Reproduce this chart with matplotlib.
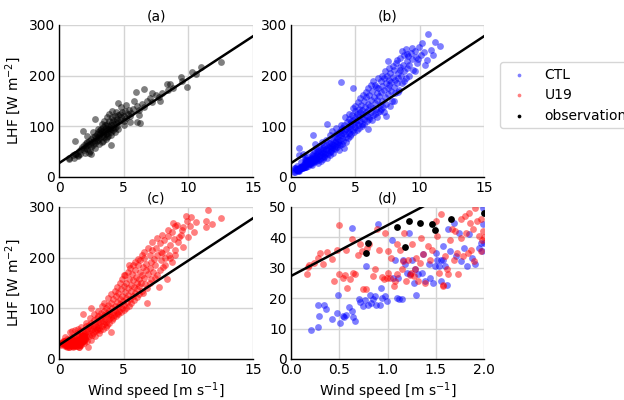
import numpy as np
import matplotlib
matplotlib.use('Agg')
import matplotlib.pyplot as plt

# fitted line LHF = a + b * U (drawn in every panel)
fit_intercept = 27.3
fit_slope = 16.7

# observations (wind speed [m/s], LHF [W/m2])
obs_points = [
    (0.78, 35), (0.80, 38), (1.10, 43.5), (1.18, 37), (1.22, 45.4), (1.34, 44.8),
    (1.46, 44.3), (1.49, 42.4), (1.66, 45.9), (1.21, 71), (1.86, 91), (1.55, 52),
    (1.7, 56), (1.8, 60), (1.9, 53), (1.95, 64), (2.0, 58), (2.05, 62), (2.1, 67),
    (2.15, 55), (2.2, 70), (2.25, 63), (2.32, 47), (2.35, 72), (2.4, 66), (2.45, 60),
    (2.5, 75), (2.5, 46), (2.55, 69), (2.6, 78), (2.65, 64), (2.78, 114), (2.7, 72),
    (2.75, 81), (2.8, 68), (2.85, 76), (2.9, 85), (2.95, 71), (3.0, 79), (3.0, 88),
    (3.05, 74), (3.1, 83), (3.15, 92), (3.2, 77), (3.2, 86), (3.25, 95), (3.3, 81),
    (3.3, 90), (3.35, 70), (3.4, 98), (3.4, 85), (3.45, 78), (3.5, 93), (3.5, 88),
    (3.55, 102), (3.6, 84), (3.6, 96), (3.65, 90), (3.7, 105), (3.7, 79), (3.75, 94),
    (3.8, 87), (3.8, 100), (3.85, 110), (3.9, 92), (3.99, 63), (3.95, 97), (4.0, 103),
    (4.0, 88), (4.05, 95), (4.1, 108), (4.1, 118), (4.15, 99), (4.2, 93), (4.2, 112),
    (4.25, 104), (4.3, 97), (4.35, 120), (4.4, 108), (4.45, 101), (4.5, 115),
    (4.55, 122), (4.6, 147), (4.6, 109), (4.7, 125), (4.75, 112), (4.8, 118),
    (4.9, 128), (5.0, 121), (5.05, 110), (5.1, 130), (5.2, 116), (5.3, 125),
    (5.4, 133), (5.5, 108), (5.6, 127), (5.7, 135), (5.93, 168), (6.05, 109),
    (6.0, 140), (6.2, 132), (6.3, 106), (6.4, 145), (6.57, 173), (6.6, 138),
    (6.8, 150), (7.0, 155), (7.2, 148), (7.5, 162), (7.7, 158), (8.0, 165),
    (8.35, 183), (8.6, 183), (8.8, 175), (9.4, 197), (9.5, 190), (9.9, 177),
    (10.3, 208), (10.6, 203), (10.95, 218), (12.5, 227),
    (2.0, 48), (2.2, 80), (2.4, 52), (2.6, 88), (2.8, 58), (3.0, 95), (3.1, 66),
    (3.3, 104), (3.4, 72), (3.5, 110), (3.6, 75), (3.7, 118), (3.8, 80), (3.9, 125),
    (4.0, 82), (4.1, 130), (4.3, 88), (4.4, 128), (4.6, 95), (4.8, 138), (5.0, 102),
    (5.2, 142), (5.5, 120), (5.8, 150), (6.2, 122), (7.2, 165), (7.8, 150), (8.4, 172),
]

# CTL simulation
ctl_points = [
    # low winds (seen in panel d)
    (0.21, 9.5), (0.28, 10.5), (0.28, 17.9), (0.29, 14.3), (0.34, 17.6), (0.36, 16.5),
    (0.43, 13), (0.48, 15), (0.49, 21.2), (0.51, 11.9), (0.54, 14), (0.55, 13.8),
    (0.57, 14.6), (0.6, 17.1), (0.63, 43.2), (0.63, 15.7), (0.64, 13.8), (0.66, 12.6),
    (0.70, 19.8), (0.72, 18.7), (0.75, 17.4), (0.77, 19.3), (0.78, 30.5), (0.8, 17.6),
    (0.82, 20.9), (0.83, 18.5), (0.85, 19.8), (0.87, 20.7), (0.88, 17.9), (0.90, 44.5),
    (0.92, 17.9), (0.94, 20.1), (0.93, 23.4), (0.97, 20.7), (0.99, 19), (1.05, 39.3),
    (1.06, 26.7), (1.08, 32.7), (1.10, 20.1), (1.11, 26.7), (1.12, 19.6), (1.15, 19.6),
    (1.16, 32.7), (1.18, 31.1), (1.20, 28.4), (1.22, 41.5), (1.23, 27.8), (1.25, 32.7),
    (1.27, 25.1), (1.29, 29.5), (1.30, 21.2), (1.32, 27.8), (1.36, 28.4), (1.37, 34.4),
    (1.39, 25.6), (1.43, 31.1), (1.44, 26.7), (1.47, 25.1), (1.49, 30.5), (1.50, 34.9),
    (1.51, 32.7), (1.53, 30.5), (1.55, 32.7), (1.55, 25.6), (1.57, 37.1), (1.58, 32.5),
    (1.60, 30.5), (1.62, 24.5), (1.63, 42.6), (1.65, 35.5), (1.69, 44.8), (1.71, 33.8),
    (1.74, 41.5), (1.76, 32.2), (1.79, 36.6), (1.82, 30.5), (1.84, 41), (1.88, 33.3),
    (1.91, 31.1), (1.95, 36.6), (1.97, 38.2), (1.98, 35.5), (1.99, 49.8), (1.99, 44.3),
    (0.65, 58), (1.68, 83), (1.75, 53), (1.95, 58), (1.85, 65),
    # higher winds
    (2.0, 38), (2.05, 45), (2.1, 33), (2.1, 52), (2.15, 41), (2.2, 48), (2.25, 36),
    (2.3, 55), (2.3, 44), (2.35, 50), (2.4, 39), (2.45, 58), (2.5, 47), (2.5, 53),
    (2.55, 42), (2.6, 61), (2.6, 50), (2.65, 45), (2.7, 56), (2.75, 64), (2.8, 48),
    (2.8, 104), (2.85, 59), (2.9, 53), (2.95, 67), (3.0, 57), (3.0, 62), (3.05, 50),
    (3.1, 70), (3.15, 60), (3.2, 55), (3.2, 66), (3.25, 74), (3.3, 63), (3.35, 58),
    (3.4, 78), (3.4, 69), (3.45, 61), (3.5, 72), (3.5, 84), (3.55, 66), (3.6, 76),
    (3.65, 70), (3.7, 88), (3.7, 80), (3.75, 65), (3.8, 74), (3.85, 92), (3.88, 188),
    (3.9, 82), (3.95, 77), (4.0, 86), (4.0, 96), (4.05, 72), (4.1, 90), (4.15, 102),
    (4.2, 84), (4.25, 95), (4.3, 79), (4.35, 108), (4.4, 91), (4.45, 99), (4.5, 87),
    (4.5, 115), (4.55, 104), (4.6, 95), (4.65, 110), (4.7, 100), (4.75, 122), (4.8, 92),
    (4.84, 175), (4.85, 112), (4.9, 104), (4.95, 130), (5.0, 98), (5.0, 118),
    (5.05, 108), (5.1, 125), (5.15, 113), (5.2, 102), (5.25, 135), (5.3, 120),
    (5.35, 110), (5.4, 128), (5.45, 142), (5.5, 116), (5.5, 105), (5.55, 132),
    (5.6, 124), (5.65, 150), (5.7, 114), (5.75, 138), (5.8, 128), (5.85, 158),
    (5.9, 120), (5.96, 95), (6.0, 145), (6.0, 133), (6.05, 115), (6.1, 162),
    (6.15, 140), (6.2, 128), (6.25, 152), (6.3, 170), (6.35, 137), (6.4, 122),
    (6.45, 158), (6.5, 147), (6.55, 182), (6.6, 135), (6.65, 165), (6.7, 152),
    (6.75, 128), (6.8, 176), (6.85, 160), (6.9, 142), (7.0, 190), (7.0, 168),
    (7.05, 150), (7.1, 180), (7.15, 138), (7.2, 196), (7.25, 172), (7.3, 158),
    (7.35, 186), (7.4, 120), (7.45, 200), (7.5, 229), (7.5, 175), (7.55, 164),
    (7.6, 192), (7.65, 182), (7.7, 205), (7.75, 170), (7.8, 188), (7.85, 150),
    (7.9, 198), (8.0, 212), (8.0, 178), (8.05, 192), (8.1, 165), (8.15, 225),
    (8.2, 186), (8.3, 205), (8.35, 195), (8.4, 172), (8.45, 218), (8.5, 235),
    (8.55, 200), (8.6, 185), (8.7, 222), (8.75, 240), (8.8, 210), (8.9, 196),
    (8.95, 253), (9.0, 228), (9.05, 215), (9.1, 238), (9.2, 222), (9.33, 244),
    (9.4, 232), (9.5, 212), (9.6, 248), (9.7, 236), (9.8, 225), (9.97, 257),
    (10.1, 240), (10.3, 246), (10.6, 231), (10.67, 282), (10.9, 250), (11.2, 266),
    (11.6, 259),
    (2.1, 28), (2.2, 62), (2.3, 31), (2.4, 70), (2.5, 35), (2.6, 40), (2.7, 74),
    (2.8, 38), (2.9, 46), (3.0, 82), (3.0, 44), (3.1, 52), (3.2, 90), (3.3, 48),
    (3.4, 56), (3.5, 96), (3.6, 60), (3.7, 54), (3.8, 64), (3.9, 102), (4.0, 66),
    (4.1, 58), (4.2, 118), (4.3, 70), (4.4, 76), (4.5, 124), (4.6, 80), (4.7, 85),
    (4.8, 136), (4.9, 88), (5.0, 140), (5.1, 92), (5.2, 148), (5.3, 96), (5.4, 155),
    (5.5, 100), (5.6, 162), (5.7, 104), (5.8, 168), (5.9, 110), (6.0, 175),
    (6.1, 118), (6.2, 182), (6.3, 112), (6.4, 190), (6.5, 125), (6.6, 178),
    (6.7, 118), (6.8, 195), (6.9, 130), (7.0, 135), (7.1, 200), (7.2, 128),
    (7.3, 210), (7.4, 145), (7.6, 215), (7.7, 140), (7.9, 220), (8.0, 150),
    (8.2, 230), (8.3, 168), (8.5, 212), (8.6, 248), (8.8, 190), (9.0, 242),
    (9.2, 200), (9.4, 255), (9.6, 210), (9.9, 232), (10.2, 265), (10.4, 222),
    (11.0, 240),
]

# U19 simulation
u19_points = [
    # low winds (seen in panel d)
    (0.50, 44.1), (0.17, 28.1), (0.18, 30.3), (0.19, 30.8), (0.24, 31.6), (0.28, 33.3),
    (0.30, 34.9), (0.33, 31.4), (0.37, 35.2), (0.42, 33), (0.45, 25.6), (0.48, 35.8),
    (0.5, 27.8), (0.54, 26.7), (0.56, 27.5), (0.57, 35.7), (0.58, 23.4), (0.61, 26.4),
    (0.63, 39.6), (0.64, 28.4), (0.66, 27.8), (0.69, 34.1), (0.71, 37.7), (0.74, 35.5),
    (0.75, 22.9), (0.78, 22.9), (0.79, 36.6), (0.81, 37.9), (0.85, 27.3), (0.87, 29.5),
    (0.89, 42.9), (0.91, 36), (0.94, 27), (0.96, 26.2), (0.97, 41.5), (0.99, 26.7),
    (1.0, 35.5), (1.01, 28.4), (1.03, 26.7), (1.04, 33.3), (1.07, 24), (1.08, 25.6),
    (1.1, 37.7), (1.1, 27.8), (1.13, 36), (1.15, 29.5), (1.16, 32.2), (1.17, 41.5),
    (1.19, 25.6), (1.21, 32.7), (1.23, 27.5), (1.24, 28.4), (1.25, 37.7), (1.27, 27.3),
    (1.28, 29.5), (1.30, 33.3), (1.32, 25.6), (1.34, 31.6), (1.35, 39.9), (1.37, 34.4),
    (1.39, 25.1), (1.42, 37.1), (1.44, 32.7), (1.46, 36), (1.50, 45.4), (1.51, 40.4),
    (1.53, 28.4), (1.55, 47.6), (1.57, 24.5), (1.58, 24), (1.60, 33.8), (1.62, 29.5),
    (1.63, 27.8), (1.65, 39.3), (1.67, 42.9), (1.69, 32.7), (1.70, 42.1), (1.72, 34.9),
    (1.73, 27.8), (1.76, 45.9), (1.76, 39.9), (1.78, 33.8), (1.80, 47), (1.81, 41.5),
    (1.83, 34.9), (1.84, 48.1), (1.86, 44.8), (1.87, 36), (1.89, 42.6), (1.90, 32.2),
    (1.91, 49.8), (1.93, 45.4), (1.95, 40.4), (1.97, 35.5), (1.97, 45.9), (1.98, 39.3),
    (1.99, 42.1),
    (0.83, 53), (1.0, 55), (1.2, 58), (1.4, 52), (1.5, 60), (1.6, 55), (1.7, 63),
    (1.86, 89), (1.9, 58),
    # higher winds
    (2.0, 52), (2.05, 65), (2.1, 46), (2.15, 60), (2.2, 55), (2.27, 23), (2.3, 68),
    (2.35, 50), (2.4, 62), (2.45, 57), (2.5, 72), (2.5, 100), (2.55, 48), (2.6, 66),
    (2.65, 60), (2.7, 76), (2.75, 55), (2.8, 70), (2.85, 64), (2.9, 80), (2.95, 58),
    (3.0, 74), (3.0, 67), (3.05, 85), (3.1, 62), (3.15, 78), (3.2, 71), (3.25, 90),
    (3.3, 66), (3.35, 82), (3.4, 75), (3.45, 95), (3.5, 70), (3.5, 86), (3.55, 79),
    (3.6, 100), (3.65, 73), (3.7, 90), (3.75, 84), (3.8, 106), (3.85, 78), (3.9, 95),
    (3.95, 88), (4.0, 54), (4.0, 110), (4.05, 83), (4.1, 100), (4.15, 92), (4.2, 118),
    (4.25, 86), (4.3, 105), (4.35, 97), (4.4, 124), (4.45, 90), (4.5, 112),
    (4.55, 102), (4.6, 130), (4.65, 95), (4.7, 118), (4.75, 108), (4.8, 138),
    (4.85, 100), (4.9, 125), (4.95, 115), (5.0, 165), (5.0, 145), (5.05, 106),
    (5.1, 132), (5.15, 120), (5.2, 150), (5.25, 112), (5.3, 140), (5.35, 127),
    (5.41, 185), (5.45, 158), (5.5, 118), (5.55, 146), (5.6, 134), (5.65, 168),
    (5.7, 125), (5.75, 155), (5.8, 142), (5.85, 176), (5.9, 130), (5.95, 162),
    (6.0, 150), (6.05, 138), (6.1, 185), (6.15, 158), (6.2, 145), (6.25, 172),
    (6.3, 195), (6.35, 150), (6.4, 165), (6.45, 135), (6.5, 182), (6.55, 160),
    (6.6, 200), (6.65, 148), (6.7, 175), (6.75, 188), (6.83, 110), (6.9, 168),
    (7.0, 205), (7.0, 180), (7.1, 158), (7.15, 192), (7.2, 215), (7.3, 172),
    (7.35, 198), (7.4, 185), (7.5, 220), (7.55, 165), (7.6, 205), (7.73, 143),
    (7.8, 228), (7.85, 195), (7.9, 212), (8.0, 210), (8.05, 182), (8.1, 235),
    (8.2, 200), (8.3, 218), (8.35, 158), (8.4, 242), (8.5, 205), (8.6, 225),
    (8.7, 250), (8.75, 192), (8.9, 236), (8.95, 262), (9.0, 215), (9.15, 264),
    (9.2, 230), (9.4, 245), (9.5, 254), (9.6, 222), (9.8, 282), (9.88, 273),
    (10.0, 240), (10.1, 262), (10.4, 250), (10.6, 270), (11.4, 273), (11.4, 261),
    (11.55, 295), (11.8, 266), (12.5, 279),
    (2.0, 40), (2.1, 72), (2.2, 35), (2.3, 45), (2.4, 80), (2.5, 38), (2.6, 52),
    (2.7, 88), (2.8, 45), (2.9, 60), (3.0, 95), (3.1, 52), (3.2, 58), (3.3, 104),
    (3.4, 60), (3.5, 110), (3.6, 64), (3.7, 68), (3.8, 120), (3.9, 72), (4.0, 128),
    (4.1, 76), (4.2, 80), (4.3, 135), (4.4, 84), (4.5, 142), (4.6, 88), (4.7, 150),
    (4.8, 92), (4.9, 158), (5.0, 96), (5.1, 165), (5.2, 100), (5.3, 172), (5.4, 104),
    (5.5, 180), (5.6, 110), (5.7, 186), (5.8, 116), (5.9, 192), (6.0, 122),
    (6.1, 198), (6.2, 128), (6.4, 205), (6.5, 130), (6.6, 212), (6.8, 140),
    (6.9, 220), (7.0, 150), (7.2, 230), (7.4, 160), (7.6, 238), (7.8, 175),
    (8.0, 245), (8.2, 185), (8.4, 255), (8.6, 200), (8.8, 268), (9.0, 205),
    (9.3, 240), (9.6, 260), (10.2, 280),
]

panel_titles = ['(a)', '(b)', '(c)', '(d)']

obs_wind, obs_lhf = np.array(obs_points).T
ctl_wind, ctl_lhf = np.array(ctl_points).T
u19_wind, u19_lhf = np.array(u19_points).T

plt.rcParams['font.family'] = ['DejaVu Sans']
plt.rcParams['font.size'] = 10

fig = plt.figure(figsize=(6.24, 4.0), dpi=100)

W, H = 624, 400
def axes_px(left, top, right, bottom):
    return fig.add_axes([left / W, 1 - bottom / H, (right - left) / W, (bottom - top) / H])

ax_a = axes_px(59, 25, 253, 177)
ax_b = axes_px(291, 25, 484, 177)
ax_c = axes_px(59, 207, 253, 359)
ax_d = axes_px(291, 207, 484, 359)

dot = 24
for ax, title in zip([ax_a, ax_b, ax_c, ax_d], panel_titles):
    ax.grid(True, color='#d4d4d4', lw=1)
    ax.set_axisbelow(True)
    for side in ['top', 'right']:
        ax.spines[side].set_visible(False)
    for side in ['left', 'bottom']:
        ax.spines[side].set_color('black')
        ax.spines[side].set_linewidth(1)
    ax.tick_params(length=0, pad=3)
    ax.set_title(title, fontsize=10, pad=3)

xs = np.array([0, 15])
for ax in [ax_a, ax_b, ax_c]:
    ax.set_xlim(0, 15)
    ax.set_ylim(0, 300)
    ax.set_xticks([0, 5, 10, 15])
    ax.set_yticks([0, 100, 200, 300])

ax_a.scatter(obs_wind, obs_lhf, s=dot, color='black', alpha=0.5, lw=0)
ax_b.scatter(ctl_wind, ctl_lhf, s=dot, color='blue', alpha=0.5, lw=0)
ax_c.scatter(u19_wind, u19_lhf, s=dot, color='red', alpha=0.5, lw=0)

h_ctl = ax_d.scatter(ctl_wind, ctl_lhf, s=dot, color='blue', alpha=0.5, lw=0, label='CTL')
h_u19 = ax_d.scatter(u19_wind, u19_lhf, s=dot, color='red', alpha=0.5, lw=0, label='U19')
h_obs = ax_d.scatter(obs_wind, obs_lhf, s=dot, color='black', lw=0, label='observation')
ax_d.set_xlim(0, 2)
ax_d.set_ylim(0, 50)
ax_d.set_xticks([0.0, 0.5, 1.0, 1.5, 2.0])
ax_d.set_yticks([0, 10, 20, 30, 40, 50])

for ax in [ax_a, ax_b, ax_c, ax_d]:
    ax.plot(xs, fit_intercept + fit_slope * xs, color='black', lw=1.8)

ax_a.set_ylabel('LHF [W m$^{-2}$]')
ax_c.set_ylabel('LHF [W m$^{-2}$]')
ax_c.set_xlabel('Wind speed [m s$^{-1}$]', labelpad=2)
ax_d.set_xlabel('Wind speed [m s$^{-1}$]', labelpad=2)

fig.legend(handles=[h_ctl, h_u19, h_obs], loc='upper left',
           bbox_to_anchor=(500 / W, 1 - 62 / H), borderaxespad=0,
           markerscale=0.55, fontsize=10, frameon=True, edgecolor='#cccccc',
           handletextpad=0.8, borderpad=0.4, labelspacing=0.47)

fig.savefig('out.png', dpi=100)
